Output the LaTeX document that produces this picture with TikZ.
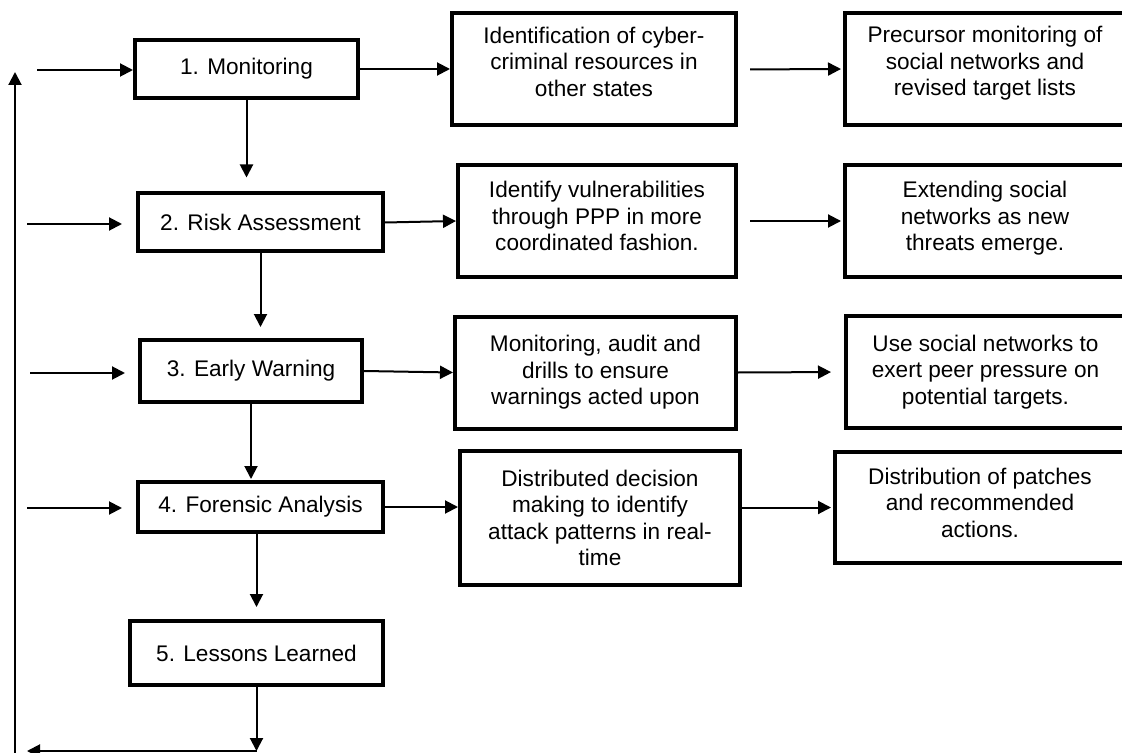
\documentclass[tikz,border=0pt]{standalone}
\usepackage{fontspec}
\setmainfont{Liberation Sans}
\usetikzlibrary{arrows.meta}
\begin{document}
\begin{tikzpicture}[x=0.5pt, y=-0.5pt, line join=miter, >={Triangle[length=6.5pt,width=6.5pt]},
		font=\fontsize{11.3}{13.25}\selectfont,
		box/.style={draw, line width=2pt, align=center, inner sep=0pt},
		stage/.style={box, minimum height=29pt},
		note/.style={box, minimum width=140pt, minimum height=56pt},
		arr/.style={->, line width=1pt}]
	\useasboundingbox (0,0) rectangle (1122,753);
	% stages
	\node[stage, minimum width=111.5pt] (b1) at (246.5,69) {1. Monitoring};
	\node[stage, minimum width=122.5pt] (b2) at (260.5,222.5) {2. Risk Assessment};
	\node[stage, minimum width=111pt, minimum height=31pt] (b3) at (251,371) {3. Early Warning};
	\node[stage, minimum width=122.5pt, minimum height=25pt] (b4) at (260.5,507) {4. Forensic Analysis};
	\node[stage, minimum width=126.5pt, minimum height=32pt] (b5) at (256.5,653) {5. Lessons Learned};
	% middle column
	\node[note, minimum width=142pt, text depth=8pt] (m1) at (594,69.5) {Identification of cyber-\\criminal resources in\\other states};
	\node[note, minimum width=139pt, text depth=5pt] (m2) at (597,221) {Identify vulnerabilities\\through PPP in more\\coordinated fashion.};
	\node[note, minimum width=140.5pt] (m3) at (595.5,372.5) {Monitoring, audit and\\drills to ensure\\warnings acted upon};
	\node[note, minimum width=140pt, minimum height=67pt] (m4) at (600,518) {Distributed decision\\making to identify\\attack patterns in real-\\time};
	% right column
	\node[note, text depth=8pt] (r1) at (985,69) {Precursor monitoring of\\social networks and\\revised target lists};
	\node[note, text depth=5pt] (r2) at (985,221) {Extending social\\networks as new\\threats emerge.};
	\node[note, minimum width=139.5pt] (r3) at (985.5,372) {Use social networks to\\exert peer pressure on\\potential targets.};
	\node[note, minimum width=145pt, minimum height=55.5pt, text depth=5pt] (r4) at (980,507.5) {Distribution of patches\\and recommended\\actions.};
	% free ends
	\coordinate (in1) at (37,70);
	\coordinate (in2) at (27,224);
	\coordinate (in3) at (30,373);
	\coordinate (in4) at (27,508);
	\coordinate (loopL) at (27,751);
	\coordinate (backB) at (15,760);
	\coordinate (backT) at (15,72);
	% inputs
	\draw[arr] (in1) -- (in1 -| b1.west);
	\draw[arr, shorten >=7pt] (in2) -- (in2 -| b2.west);
	\draw[arr, shorten >=6.5pt] (in3) -- (in3 -| b3.west);
	\draw[arr, shorten >=7pt] (in4) -- (in4 -| b4.west);
	% stage to stage
	\draw[arr, shorten >=7pt] (b1.south) -- (b1.south |- b2.north);
	\draw[arr, shorten >=5.5pt] (b2.south) -- (b2.south |- b3.north);
	\draw[arr, shorten >=0.5pt] (b3.south) -- (b3.south |- b4.north);
	\draw[arr, shorten >=6pt] (b4.south -| b5.north) -- (b5.north);
	\draw[arr] (b5.south) -- (b5.south |- loopL);
	\draw[arr] (b5.south |- loopL) -- (loopL);
	\draw[arr] (backB) -- (backT);
	% stages to notes
	\draw[arr] (b1.east) -- (m1.west |- b1.east);
	\draw[arr] (b2.east) -- (m2.west);
	\draw[arr] (b3.east) -- (m3.west);
	\draw[arr] (b4.east) -- (b4.east -| m4.west);
	\draw[arr, shorten <=6pt, shorten >=1pt] (m1.east) -- (r1.west);
	\draw[arr, shorten <=6pt, shorten >=1pt] (m2.east) -- (r2.west);
	\draw[arr, shorten >=6.5pt] (m3.east) -- (r3.west);
	\draw[arr, shorten >=1pt] (r4.west -| m4.east) -- (r4.west);
\end{tikzpicture}
\end{document}
